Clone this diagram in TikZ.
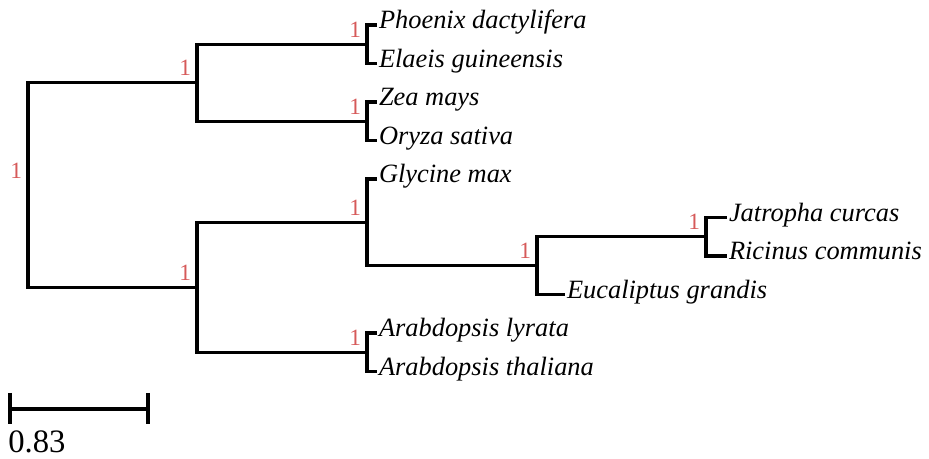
\documentclass[tikz,border=0pt]{standalone}
\usepackage{fontspec}
\setmainfont{Liberation Serif}
\usetikzlibrary{positioning}
\definecolor{Boot}{HTML}{D65A5A}

\begin{document}
\begin{tikzpicture}[
      x=0.75pt, y=-0.75pt,
      branch/.style={draw=black, line width=2.4pt},
      taxon/.style={anchor=west, inner sep=1.5pt, outer sep=0pt,
                    font=\fontsize{19.8}{21}\selectfont\itshape,
                    text height=0.75em, text depth=0.15em},
      boot/.style={anchor=south east, inner sep=0pt, text=Boot,
                   font=\fontsize{17.5}{19}\selectfont,
                   xshift=-4.2pt, yshift=5pt}
    ]
      \useasboundingbox (0,0) rectangle (929,459);
      % inner nodes of the tree
      \coordinate (root) at (28,185);
      \coordinate (monocot) at (197,82.75);
      \coordinate (palm) at (367,44.25);
      \coordinate (grass) at (367,121.25);
      \coordinate (dicot) at (197,287.3);
      \coordinate (fabid) at (367,222.3);
      \coordinate (rosid) at (537,265.6);
      \coordinate (euph) at (706,236.75);
      \coordinate (brass) at (367,352.25);
      % leaves
      \node[taxon] (phoenix) at (377,25) {Phoenix dactylifera};
      \node[taxon] (elaeis) at (377,63.5) {Elaeis guineensis};
      \node[taxon] (zea) at (377,102) {Zea mays};
      \node[taxon] (oryza) at (377,140.5) {Oryza sativa};
      \node[taxon] (glycine) at (377,179) {Glycine max};
      \node[taxon] (jatropha) at (727,217.5) {Jatropha curcas};
      \node[taxon] (ricinus) at (727,256) {Ricinus communis};
      \node[taxon] (eucal) at (565,294.5) {Eucaliptus grandis};
      \node[taxon] (alyr) at (377,333) {Arabdopsis lyrata};
      \node[taxon] (atha) at (377,371.5) {Arabdopsis thaliana};
      % branches
      \draw[branch] (root) |- (monocot);
      \draw[branch] (root) |- (dicot);
      \draw[branch] (monocot) |- (palm);
      \draw[branch] (monocot) |- (grass);
      \draw[branch] (palm) |- (phoenix.west);
      \draw[branch] (palm) |- (elaeis.west);
      \draw[branch] (grass) |- (zea.west);
      \draw[branch] (grass) |- (oryza.west);
      \draw[branch] (dicot) |- (fabid);
      \draw[branch] (dicot) |- (brass);
      \draw[branch] (fabid) |- (glycine.west);
      \draw[branch] (fabid) |- (rosid);
      \draw[branch] (rosid) |- (euph);
      \draw[branch] (rosid) |- (eucal.west);
      \draw[branch] (euph) |- (jatropha.west);
      \draw[branch] (euph) |- (ricinus.west);
      \draw[branch] (brass) |- (alyr.west);
      \draw[branch] (brass) |- (atha.west);
      % bootstrap values
      \node[boot] (b-root) at (root) {1};
      \node[boot] (b-monocot) at (monocot) {1};
      \node[boot] (b-palm) at (palm) {1};
      \node[boot] (b-grass) at (grass) {1};
      \node[boot] (b-dicot) at (dicot) {1};
      \node[boot] (b-fabid) at (fabid) {1};
      \node[boot] (b-rosid) at (rosid) {1};
      \node[boot] (b-euph) at (euph) {1};
      \node[boot] (b-brass) at (brass) {1};
      % scale bar
      \coordinate (bar-l) at (10,409);
      \coordinate (bar-r) at (148,409);
      \draw[branch] (bar-l) -- (bar-r);
      \draw[branch] (bar-l) ++(0,-16) -- ++(0,31);
      \draw[branch] (bar-r) ++(0,-16) -- ++(0,31);
      \node[anchor=north west, inner sep=0pt, font=\fontsize{24.5}{26}\selectfont]
        (bar-txt) at (8,431) {0.83};
    \end{tikzpicture}
\end{document}
